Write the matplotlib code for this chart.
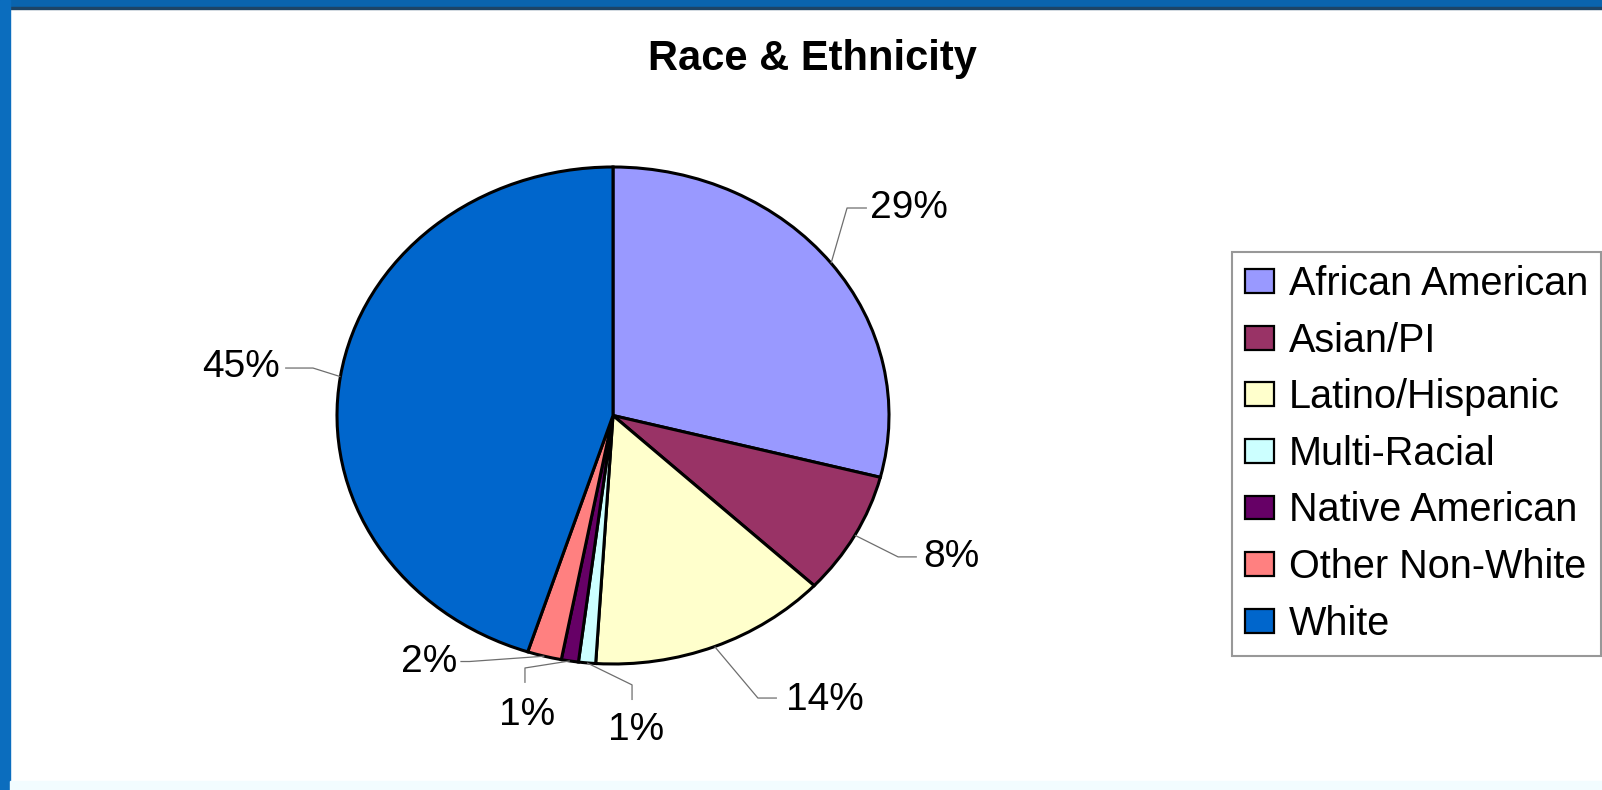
import matplotlib
matplotlib.use("Agg")
import matplotlib.pyplot as plt
from matplotlib.patches import Rectangle
import numpy as np

plt.rcParams['font.family'] = ['Liberation Sans', 'DejaVu Sans']

# data
categories = ['African American', 'Asian/PI', 'Latino/Hispanic', 'Multi-Racial',
              'Native American', 'Other Non-White', 'White']
shares = [29, 8, 14, 1, 1, 2, 45]
colors = ['#9999FF', '#993366', '#FFFFCC', '#CCFFFF', '#660066', '#FF8080', '#0066CC']
title = 'Race & Ethnicity'

# label layout in pie units: text anchor, ha, elbow point, line end
label_layout = [
    ((0.931, 0.833), 'left', (0.848, 0.835), (0.920, 0.835)),
    ((1.123, -0.569), 'left', (1.033, -0.569), (1.101, -0.569)),
    ((0.627, -1.145), 'left', (0.525, -1.137), (0.594, -1.137)),
    ((0.083, -1.266), 'center', (0.069, -1.084), (0.069, -1.145)),
    ((-0.312, -1.205), 'center', (-0.319, -1.016), (-0.319, -1.076)),
    ((-0.565, -0.992), 'right', (-0.52, -0.99), (-0.553, -0.99)),
    ((-1.207, 0.195), 'right', (-1.087, 0.191), (-1.188, 0.191)),
]

W, H = 1602, 790
fig = plt.figure(figsize=(W / 100, H / 100), dpi=100)
fig.patch.set_facecolor('white')

# blue slide frame
fig.patches.append(Rectangle((0, 1 - 7 / H), 1, 7 / H, transform=fig.transFigure,
                             color='#0A64AE', zorder=0))
fig.patches.append(Rectangle((0, 1 - 8.5 / H), 1, 1.5 / H, transform=fig.transFigure,
                             color='#1D4466', zorder=0))
fig.patches.append(Rectangle((0, 0), 10 / W, 1, transform=fig.transFigure,
                             color='#0B6DBE', zorder=0))
fig.patches.append(Rectangle((10 / W, 0), 1, 9 / H, transform=fig.transFigure,
                             color='#F2FCFF', zorder=0))

# pie centre (613, 415.5) px, radii 276 x 248.5 px
cx, cy, rx, ry = 613, 415.5, 276, 248.5
ax = fig.add_axes([0, 0, 1, 1])
wedges, _ = ax.pie(shares, colors=colors, startangle=90, counterclock=False,
                   wedgeprops=dict(edgecolor='black', linewidth=2.2))
ax.set_aspect('auto')
ax.set_xlim(-cx / rx, (W - cx) / rx)
ax.set_ylim((cy - H) / ry, cy / ry)
ax.axis('off')

for w, val, (txy, ha, elbow, end) in zip(wedges, shares, label_layout):
    mid = np.deg2rad((w.theta1 + w.theta2) / 2)
    edge = (np.cos(mid), np.sin(mid))
    ax.plot([edge[0], elbow[0], end[0]], [edge[1], elbow[1], end[1]],
            color='#6E6E6E', linewidth=0.9, solid_capstyle='butt')
    ax.text(txy[0], txy[1], f'{val}%', ha=ha, va='center', fontsize=28, color='black')

fig.text(812 / W, 1 - 59 / H, title, ha='center', va='center',
         fontsize=30, fontweight='bold')

leg = fig.legend(wedges, categories, loc='upper left',
                 bbox_to_anchor=(1232 / W, 1 - 252 / H), borderaxespad=0,
                 fontsize=28.5, frameon=True, fancybox=False, edgecolor='#7F7F7F',
                 handlelength=0.72, handleheight=0.55, handletextpad=0.38,
                 labelspacing=0.47, borderpad=0.33)
leg.get_frame().set_linewidth(1.5)
for h in leg.legend_handles:
    h.set_linewidth(1.6)

fig.savefig('out.png', dpi=100)
